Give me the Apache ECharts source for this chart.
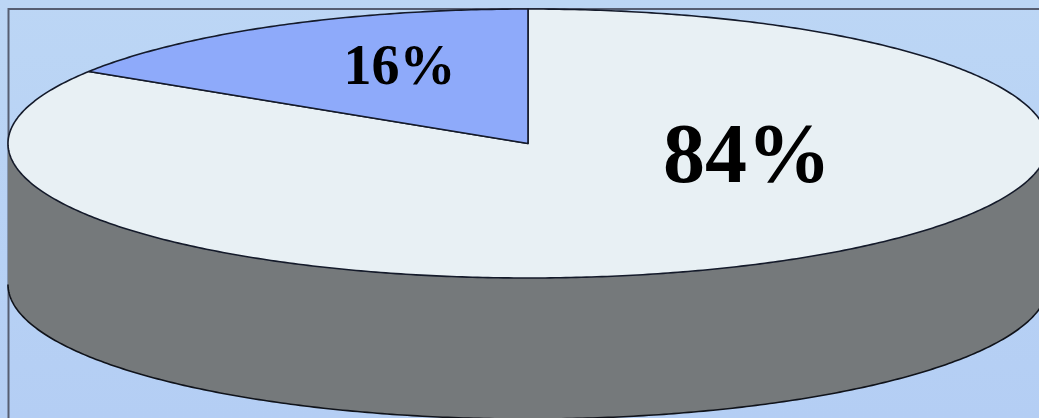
<!DOCTYPE html>
<html>
<head>
<meta charset="utf-8">
<style>html,body{margin:0;padding:0;background:#bbd5f5}#c{width:1039px;height:418px}</style>
<script src="https://cdn.jsdelivr.net/npm/echarts@6/dist/echarts.min.js"></script>
</head>
<body>
<div id="c"></div>
<script>
const categories = ['Large share', 'Small share'];
const values = [84, 16];
const labels = ['84%', '16%'];

const sliceColors = ['#e8f0f4', '#8eaafa'];
const labelPos = [[747, 160, 84], [399.5, 70, 56]];
const CX = 528, CY = 143.5, RX = 520, RY = 134.5, DEPTH = 141;
const total = values.reduce((a, b) => a + b, 0);
const starts = values.map((_, i) => values.slice(0, i).reduce((a, b) => a + b, 0) / total * Math.PI * 2);

const pt = (t, dy) => [CX + RX * Math.sin(t), CY + dy - RY * Math.cos(t)];
const arc = (a, b, dy) => {
  const n = Math.max(2, Math.ceil((b - a) / 0.01));
  const out = [];
  for (let i = 0; i <= n; i++) out.push(pt(a + (b - a) * i / n, dy));
  return out;
};

function renderItem(params, api) {
  const i = params.dataIndex;
  const a = starts[i];
  const b = a + api.value(1) / total * Math.PI * 2;
  const children = [];
  const s = Math.max(a, Math.PI / 2), e = Math.min(b, Math.PI * 1.5);
  if (e > s) {
    children.push({
      type: 'polygon', z2: 1,
      shape: { points: arc(s, e, 0).concat(arc(s, e, DEPTH).reverse()) },
      style: { fill: '#75797b', stroke: null }
    });
    children.push({
      type: 'polyline', z2: 2,
      shape: { points: arc(s, e, DEPTH) },
      style: { fill: null, stroke: '#10131a', lineWidth: 1.6 }
    });
  }
  children.push({
    type: 'polygon', z2: 3,
    shape: { points: [[CX, CY]].concat(arc(a, b, 0)) },
    style: { fill: sliceColors[i], stroke: '#141a2a', lineWidth: 1.6, lineJoin: 'round' }
  });
  children.push({
    type: 'text', z2: 4,
    style: {
      x: labelPos[i][0], y: labelPos[i][1], text: labels[i],
      fill: '#000', align: 'center', verticalAlign: 'middle',
      font: 'bold ' + labelPos[i][2] + 'px "Liberation Serif", serif'
    }
  });
  return { type: 'group', children };
}

const chart = echarts.init(document.getElementById('c'), null, { renderer: 'canvas', width: 1039, height: 418 });
chart.setOption({
  animation: false,
  backgroundColor: {
    type: 'linear', x: 0, y: 0, x2: 0, y2: 1,
    colorStops: [{ offset: 0, color: '#bcd6f5' }, { offset: 1, color: '#b4cef4' }]
  },
  graphic: [{
    type: 'rect', z: 0, silent: true,
    shape: { x: 8.5, y: 9, width: 1060, height: 440 },
    style: { fill: null, stroke: '#565e72', lineWidth: 2 }
  }],
  series: [{
    type: 'custom',
    coordinateSystem: 'none',
    renderItem,
    z: 5,
    data: categories.map((c, i) => ({ name: c, value: [i, values[i]] }))
  }]
});
</script>
</body>
</html>
